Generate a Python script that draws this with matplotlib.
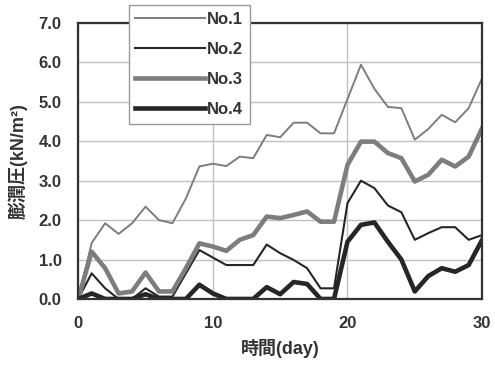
import matplotlib.pyplot as plt
import numpy as np

plt.rcParams["font.family"] = ["Liberation Sans", "Noto Sans CJK JP", "DejaVu Sans"]
plt.rcParams["font.weight"] = "bold"

days = list(range(31))
no1 = [0, 1.42, 1.92, 1.65, 1.92, 2.34, 2.0, 1.92, 2.55, 3.36,
       3.43, 3.37, 3.61, 3.57, 4.16, 4.1, 4.47, 4.47, 4.2, 4.2,
       5.07, 5.94, 5.33, 4.87, 4.84, 4.04, 4.31, 4.67, 4.48, 4.84, 5.6]
no2 = [0, 0.65, 0.27, 0, 0, 0.27, 0.06, 0.06, 0.65, 1.24,
       1.05, 0.86, 0.86, 0.86, 1.38, 1.16, 0.99, 0.78, 0.27, 0.27,
       2.43, 3.0, 2.81, 2.37, 2.2, 1.5, 1.67, 1.82, 1.82, 1.5, 1.62]
no3 = [0, 1.2, 0.78, 0.14, 0.19, 0.67, 0.19, 0.19, 0.78, 1.41,
       1.33, 1.22, 1.5, 1.62, 2.09, 2.05, 2.13, 2.22, 1.96, 1.96,
       3.4, 3.99, 3.99, 3.7, 3.57, 2.98, 3.15, 3.53, 3.36, 3.61, 4.33]
no4 = [0, 0.14, 0, 0, 0, 0.12, 0, 0, 0, 0.36,
       0.14, 0, 0, 0, 0.3, 0.12, 0.43, 0.38, 0, 0,
       1.45, 1.88, 1.94, 1.45, 1.0, 0.19, 0.58, 0.78, 0.69, 0.86, 1.5]

series = [
    ("No.1", no1, "#7d7d7d", 1.4),
    ("No.2", no2, "#262626", 1.5),
    ("No.3", no3, "#7d7d7d", 3.3),
    ("No.4", no4, "#262626", 3.3),
]

fig = plt.figure(figsize=(4.95, 3.7), dpi=100)
ax = fig.add_axes([0.158, 0.192, 0.816, 0.746])

for label, values, color, lw in series:
    ax.plot(days, values, color=color, lw=lw, label=label, solid_joinstyle="round")

ax.set_xlim(0, 30)
ax.set_ylim(0, 7)
ax.set_xticks([0, 10, 20, 30])
ax.set_yticks(np.arange(0, 7.01, 1.0))
ax.set_yticklabels([f"{v:.1f}" for v in np.arange(0, 7.01, 1.0)])
ax.tick_params(length=0, labelsize=12, colors="#333333")
ax.tick_params(axis="y", pad=12)
ax.tick_params(axis="x", pad=12)
ax.grid(True, color="#c0c0c0", lw=1.0)
ax.set_axisbelow(True)
for spine in ax.spines.values():
    spine.set_linewidth(1.6)
    spine.set_color("#333333")

ax.set_xlabel("時間(day)", fontsize=13, color="#333333", fontweight="bold", labelpad=6)
ax.set_ylabel("膨潤圧(kN/m²)", fontsize=13, color="#333333", fontweight="bold", labelpad=8)

leg = ax.legend(loc="upper left", bbox_to_anchor=(0.26, 0.986), bbox_transform=fig.transFigure,
                fontsize=12, handlelength=4.2, handletextpad=0.1, labelspacing=0.9,
                frameon=True, fancybox=False, borderpad=0.4, borderaxespad=0)
leg.get_frame().set_edgecolor("#999999")
leg.get_frame().set_linewidth(1.0)
leg.get_frame().set_alpha(1)
for text in leg.get_texts():
    text.set_color("#333333")

fig.savefig("out.png", dpi=100)
